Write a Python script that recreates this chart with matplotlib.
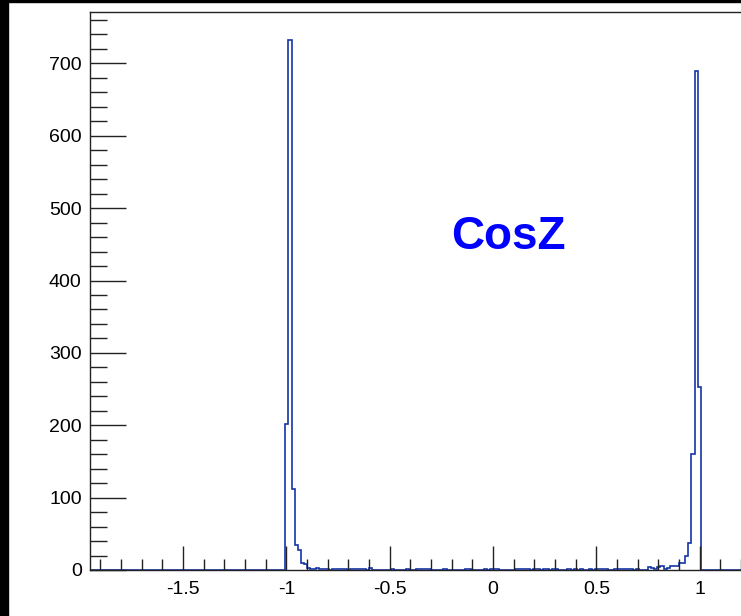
import numpy as np
import matplotlib
matplotlib.use("Agg")
import matplotlib.pyplot as plt
from matplotlib.ticker import MultipleLocator
from matplotlib.patches import Rectangle

plt.rcParams['font.family'] = ['Liberation Sans', 'DejaVu Sans']
plt.rcParams['axes.unicode_minus'] = False

# histogram binning (260 bins of 0.015 over -1.95..1.95)
x_low = -1.95
x_high = 1.95
n_bins = 260

# bin contents, 20 bins per row
counts = [
    0, 0, 0, 0, 0, 0, 0, 0, 0, 0, 0, 0, 0, 0, 0, 0, 0, 0, 0, 0,
    0, 0, 0, 0, 0, 0, 0, 0, 0, 0, 0, 0, 0, 0, 0, 0, 0, 0, 0, 0,
    0, 0, 0, 0, 0, 0, 0, 0, 0, 0, 0, 0, 0, 0, 0, 0, 0, 0, 0, 0,
    0, 0, 0, 202, 733, 112, 35, 27, 10, 8, 3, 2, 2, 3, 2, 1, 2, 0, 2, 2,
    1, 2, 2, 0, 1, 1, 1, 1, 1, 0, 3, 0, 0, 0, 0, 0, 0, 1, 0, 0,
    0, 0, 1, 0, 0, 1, 1, 2, 1, 1, 0, 0, 0, 0, 2, 0, 0, 0, 0, 0,
    0, 1, 1, 0, 0, 0, 0, 1, 0, 1, 2, 1, 0, 0, 0, 0, 0, 2, 1, 1,
    1, 1, 0, 1, 1, 0, 1, 1, 0, 1, 1, 0, 0, 0, 1, 0, 1, 0, 1, 0,
    0, 1, 0, 1, 2, 1, 1, 0, 0, 2, 1, 1, 1, 1, 1, 0, 1, 0, 0, 0,
    4, 3, 2, 4, 5, 2, 3, 6, 5, 6, 10, 10, 19, 37, 160, 689, 253, 0, 0, 0,
    0, 0, 0, 0, 0, 0, 0, 0, 0, 0, 0, 0, 0, 0, 0, 0, 0, 0, 0, 0,
    0, 0, 0, 0, 0, 0, 0, 0, 0, 0, 0, 0, 0, 0, 0, 0, 0, 0, 0, 0,
    0, 0, 0, 0, 0, 0, 0, 0, 0, 0, 0, 0, 0, 0, 0, 0, 0, 0, 0, 0,
]
title = "CosZ"
x_tick_labels = ["-1.5", "-1", "-0.5", "0", "0.5", "1"]

W, H = 741, 616
fig = plt.figure(figsize=(W / 100, H / 100), dpi=100)

# black canvas edges (left strip, top line)
fig.patches.append(Rectangle((0, 0), 8 / W, 1, transform=fig.transFigure,
                             color='black', zorder=0))
fig.patches.append(Rectangle((0, 1 - 2 / H), 1, 2 / H, transform=fig.transFigure,
                             color='black', zorder=0))

# frame runs past the right edge of the canvas
ax = fig.add_axes([90 / W, 46 / H, 806 / W, 558 / H])

edges = np.linspace(x_low, x_high, n_bins + 1)
ax.stairs(counts, edges, color='#1435a8', lw=1.2, baseline=0)

ax.set_xlim(x_low, x_high)
ax.set_ylim(0, 771)

ax.set_xticks([float(t) for t in x_tick_labels])
ax.set_xticklabels(x_tick_labels)
ax.xaxis.set_minor_locator(MultipleLocator(0.1))
ax.yaxis.set_major_locator(MultipleLocator(100))
ax.yaxis.set_minor_locator(MultipleLocator(20))

ax.tick_params(axis='both', which='both', direction='in', colors='#222222',
               labelcolor='black', labelsize=14, width=1)
ax.tick_params(axis='x', which='major', length=17, pad=8)
ax.tick_params(axis='x', which='minor', length=8)
ax.tick_params(axis='y', which='major', length=26, pad=6)
ax.tick_params(axis='y', which='minor', length=12)
ax.tick_params(top=False, right=False, which='both')

for s in ax.spines.values():
    s.set_color('#222222')
    s.set_linewidth(1)

ax.text(0.074, 460, title, color='#0000ff',
        fontsize=33, fontweight='bold', ha='center', va='center')

fig.savefig('out.png', dpi=100)
